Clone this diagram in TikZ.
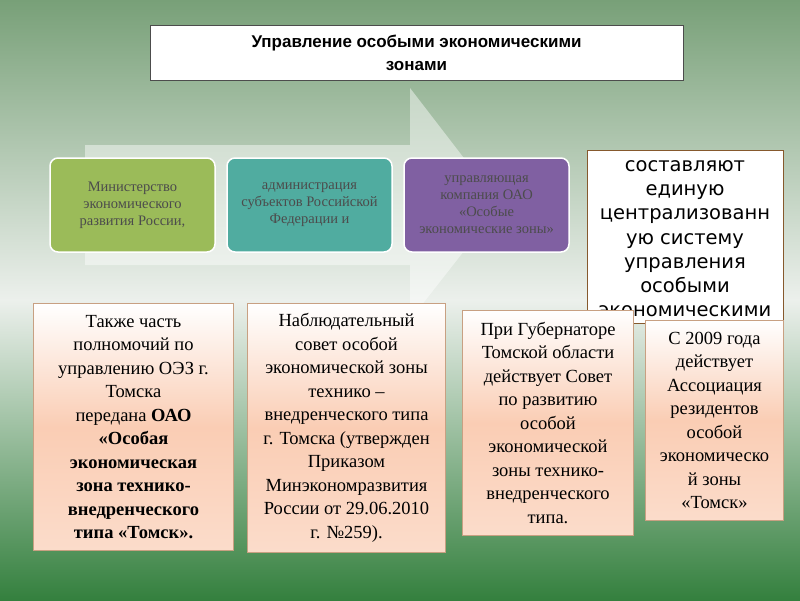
\documentclass[tikz,border=0pt]{standalone}
\usepackage{fontspec}
\setmainfont{Liberation Serif}
\newfontfamily\sansf{DejaVu Sans}
\newfontfamily\arialf{Liberation Sans}
\usetikzlibrary{shadings}
\definecolor{bgdark}{RGB}{52,128,62}
\definecolor{bgmid}{RGB}{120,160,120}
\definecolor{bglight}{RGB}{236,240,236}
\definecolor{boxgreen}{RGB}{155,187,89}
\definecolor{boxteal}{RGB}{80,172,160}
\definecolor{boxpurple}{RGB}{128,96,162}
\definecolor{peach}{RGB}{250,205,180}
\definecolor{peachline}{RGB}{200,160,130}
\tikzset{
  topbox/.style={rounded corners=8pt,draw=white,line width=1.5pt,minimum width=165pt,minimum height=94pt,align=center,font=\fontsize{14.5}{17}\selectfont,text=black!70},
  notebox/.style={draw=peachline,line width=1pt,top color=white,bottom color=peach!70,middle color=peach,align=center,anchor=north west,inner sep=1pt,font=\fontsize{18.5}{23.5}\selectfont},
}
\begin{document}
\begin{tikzpicture}[x=1pt,y=-1pt]
\useasboundingbox (0,0) rectangle (800,600);
% background
\shade[top color=bgmid,bottom color=bglight] (0,0) rectangle (800,300);
\shade[top color=bglight,bottom color=bgdark] (0,300) rectangle (800,600);
% arrow
\fill[white,opacity=0.45] (85,145) -- (410,145) -- (410,88) -- (500,205) -- (410,320) -- (410,265) -- (85,265) -- cycle;
% title
\node[draw=black!70,fill=white,line width=1pt,minimum width=533pt,minimum height=55pt,align=center,font=\arialf\bfseries\fontsize{17}{23}\selectfont] (title) at (416.5,52.5) {Управление особыми экономическими\\зонами};
% three bodies
\node[topbox,fill=boxgreen] (minec) at (132.5,205) {Министерство\\экономического\\развития России,};
\node[topbox,fill=boxteal] (admin) at (309.5,205) {администрация\\субъектов Российской\\Федерации и};
\node[topbox,fill=boxpurple] (oao) at (486.5,205) {управляющая\\компания ОАО\\«Особые\\экономические зоны»};
% right box
\node[draw=brown!70!black,fill=white,line width=1pt,minimum width=196pt,minimum height=173pt,anchor=north west] (sum) at (587,150) {};
\begin{scope}
\clip (587,150) rectangle (783,323);
\node[anchor=north,align=center,font=\sansf\fontsize{19.5}{24.2}\selectfont] (sumtext) at (685,157) {составляют\\единую\\централизованн\\ую систему\\управления\\особыми\\экономическими\\зонами};
\end{scope}
% notes
\node[notebox,minimum width=200pt,minimum height=247pt] (n1) at (33,303) {Также часть\\полномочий по\\управлению ОЭЗ г.\\Томска\\передана \textbf{ОАО}\\\textbf{«Особая}\\\textbf{экономическая}\\\textbf{зона технико-}\\\textbf{внедренческого}\\\textbf{типа «Томск».}};
\node[notebox,minimum width=198pt,minimum height=249pt] (n2) at (247,303) {Наблюдательный\\совет особой\\экономической зоны\\технико –\\внедренческого типа\\г. Томска (утвержден\\Приказом\\Минэкономразвития\\России от 29.06.2010\\г. №259).};
\node[notebox,minimum width=171pt,minimum height=225pt] (n3) at (462,310) {При Губернаторе\\Томской области\\действует Совет\\по развитию\\особой\\экономической\\зоны технико-\\внедренческого\\типа.};
\node[notebox,minimum width=138pt,minimum height=200pt] (n4) at (645,320) {С 2009 года\\действует\\Ассоциация\\резидентов\\особой\\экономическо\\й зоны\\«Томск»};
\end{tikzpicture}
\end{document}
